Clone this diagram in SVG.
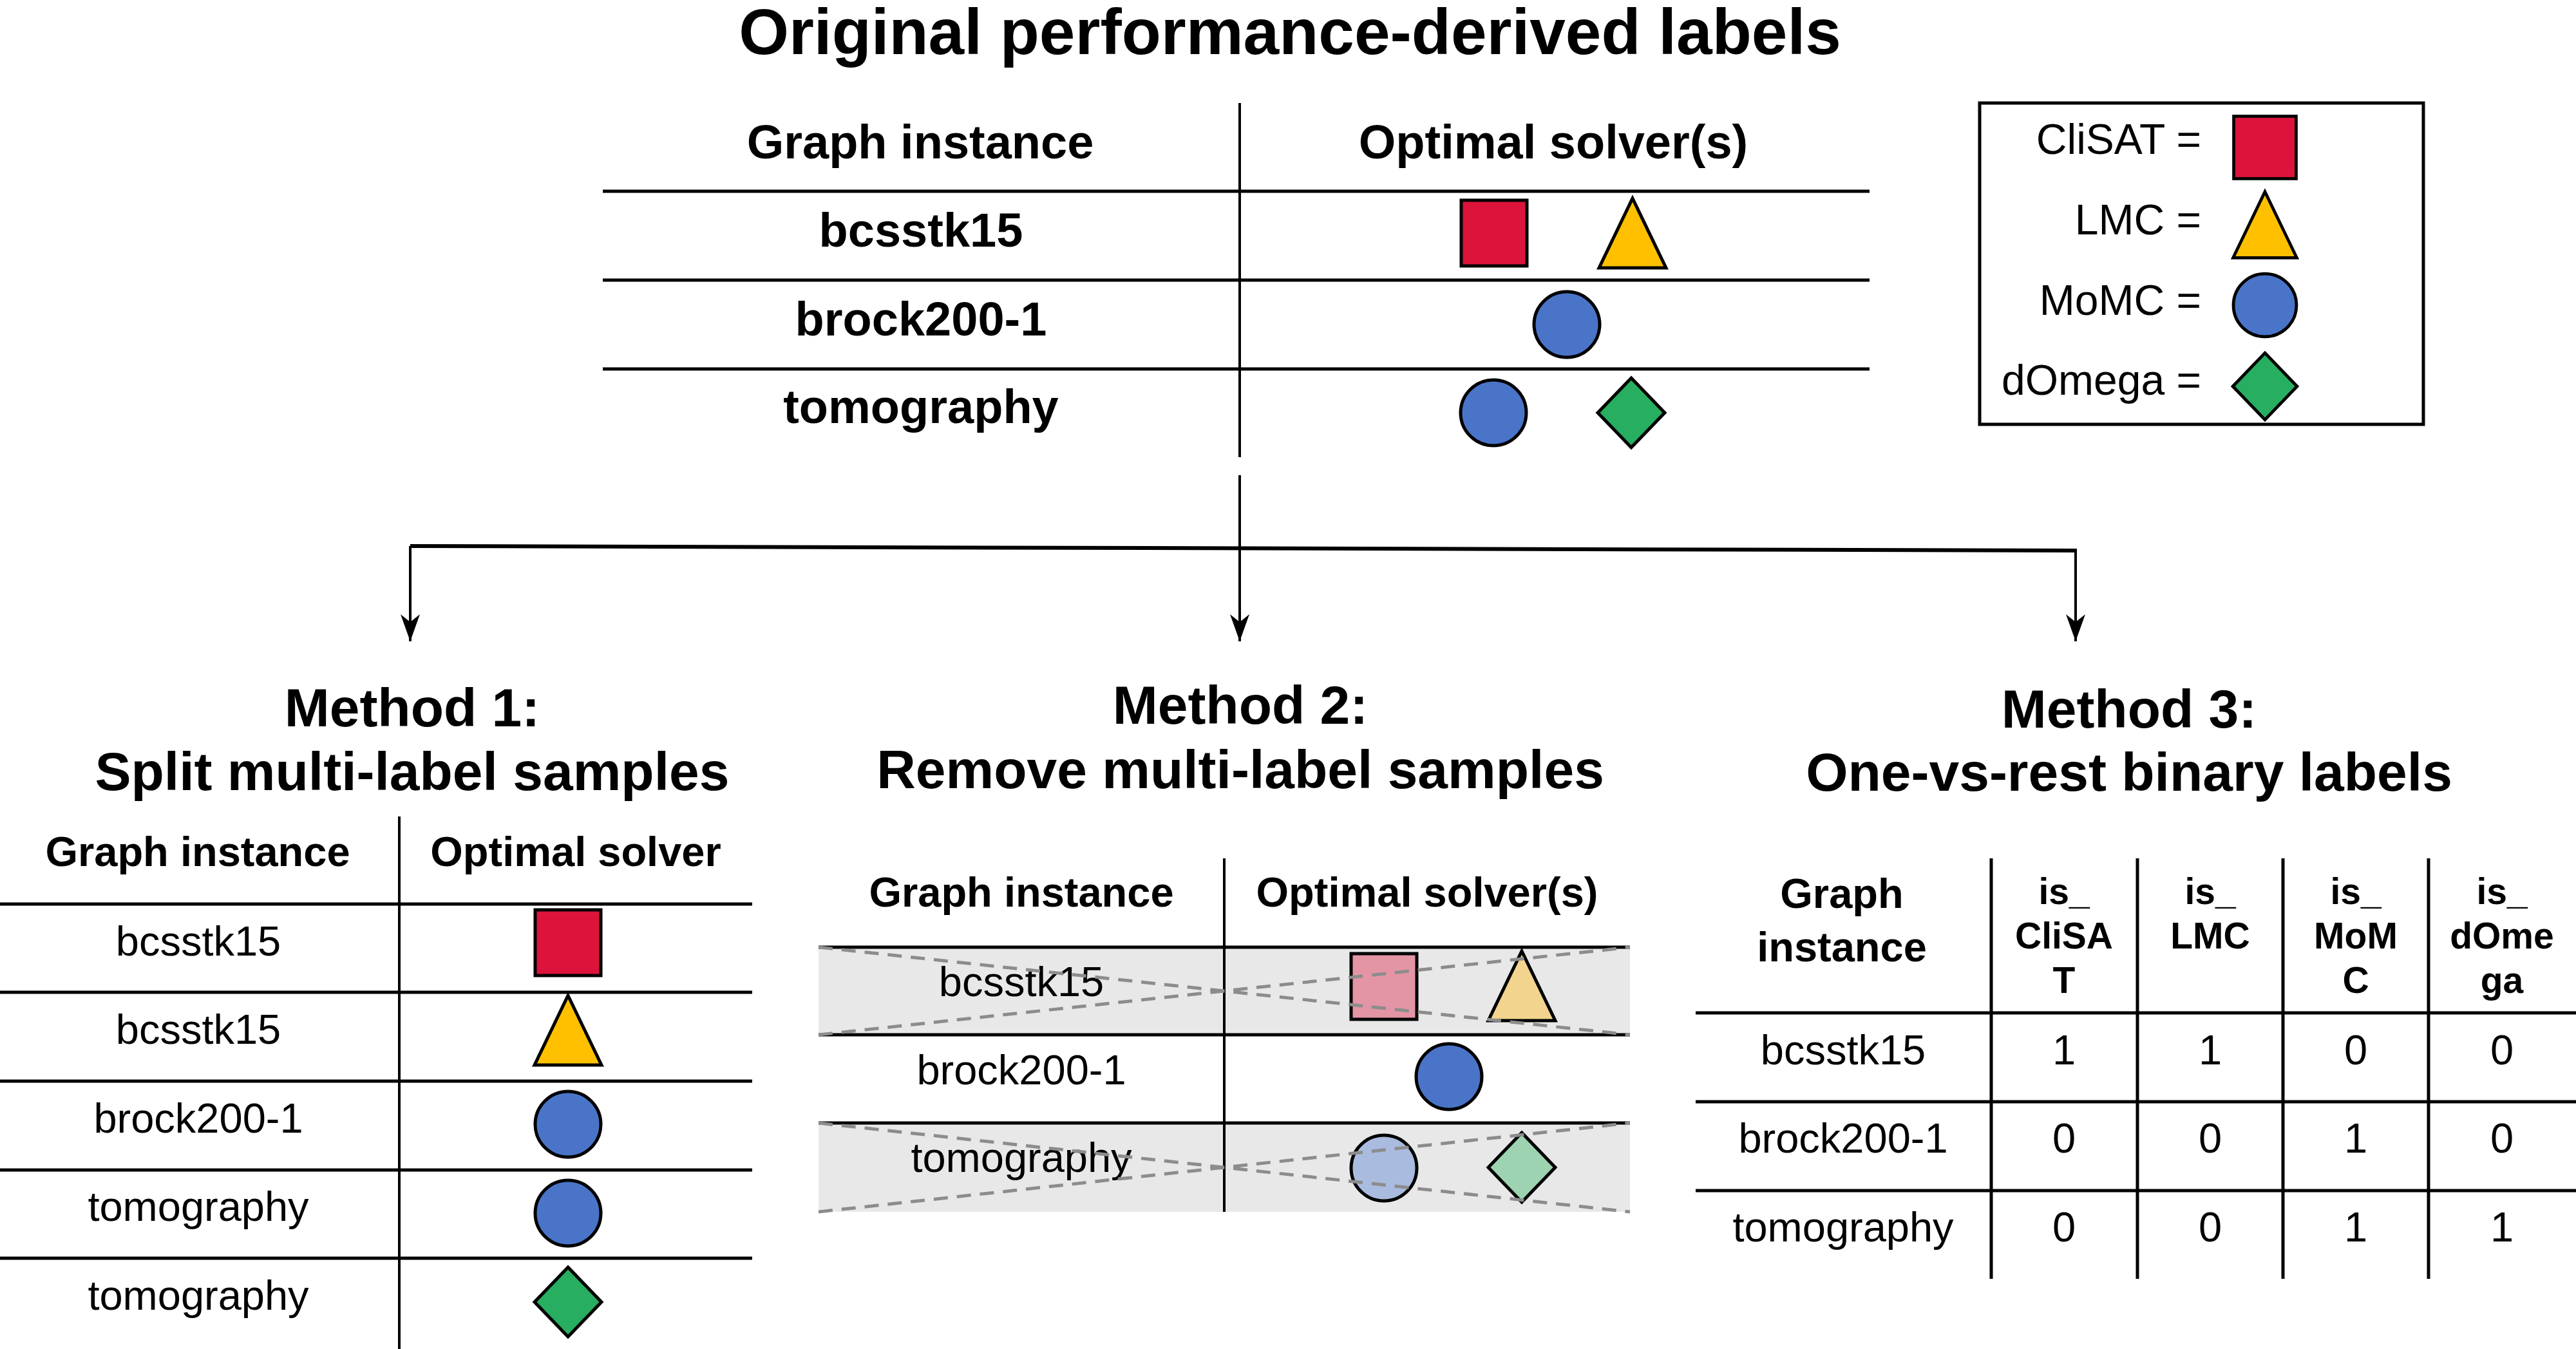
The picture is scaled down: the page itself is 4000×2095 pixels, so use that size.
<svg xmlns="http://www.w3.org/2000/svg" width="4000" height="2095" viewBox="0 0 4000 2095">
<style>
text{font-family:'Liberation Sans',Arial,sans-serif;fill:#000;text-anchor:middle}
.title{font-size:100px;font-weight:bold}
.mt{font-size:84px;font-weight:bold}
.th{font-size:74px;font-weight:bold}
.h{font-size:65px;font-weight:bold}
.r{font-size:65px}
.col{font-size:57px;font-weight:bold}
.leg{font-size:66px;text-anchor:end}
.ln{stroke:#000;stroke-width:5;fill:none}
.vl{stroke:#000;stroke-width:4;fill:none}
.sh{stroke:#000;stroke-width:5}
.dash{stroke:#8c8c8c;stroke-width:5;stroke-dasharray:22 14;fill:none}
.conn{stroke:#000;stroke-width:4;fill:none}
</style>
<defs>
<rect id="sq" x="-51" y="-51" width="102" height="102" class="sh"/>
<polygon id="tri" points="0,-54 52,54 -52,54" class="sh"/>
<circle id="cir" r="51" class="sh"/>
<polygon id="dia" points="0,-54 52,0 0,54 -52,0" class="sh"/>
<marker id="arr" viewBox="-44 -17 46 34" refX="0" refY="0" markerWidth="46" markerHeight="34" markerUnits="userSpaceOnUse" orient="auto">
<path d="M0,0 L-42,-15 L-30,0 L-42,15 Z" fill="#000"/>
</marker>
</defs>

<g id="title"><text class="title" x="2003" y="84">Original performance-derived labels</text></g>

<g id="original-table">
<line class="ln" x1="936" y1="297" x2="2903" y2="297"/>
<line class="ln" x1="936" y1="435" x2="2903" y2="435"/>
<line class="ln" x1="936" y1="573" x2="2903" y2="573"/>
<line class="vl" x1="1925" y1="160" x2="1925" y2="710"/>
<text class="th" x="1429" y="246">Graph instance</text>
<text class="th" x="2412" y="246">Optimal solver(s)</text>
<text class="th" x="1430" y="383">bcsstk15</text>
<text class="th" x="1430" y="521">brock200-1</text>
<text class="th" x="1430" y="657">tomography</text>
<use href="#sq" x="2320" y="362" fill="#dc143c"/>
<use href="#tri" x="2535" y="362" fill="#ffc000"/>
<use href="#cir" x="2433" y="504" fill="#4a74c8"/>
<use href="#cir" x="2319" y="641" fill="#4a74c8"/>
<use href="#dia" x="2533" y="641" fill="#27ae60"/>
</g>

<g id="legend">
<rect x="3074" y="160" width="689" height="499" fill="#fff" stroke="#000" stroke-width="5"/>
<text class="leg" x="3418" y="239">CliSAT =</text>
<text class="leg" x="3418" y="364">LMC =</text>
<text class="leg" x="3418" y="489">MoMC =</text>
<text class="leg" x="3418" y="613">dOmega =</text>
<use href="#sq" transform="translate(3517,229) scale(0.95)" fill="#dc143c"/>
<use href="#tri" transform="translate(3517,349) scale(0.95)" fill="#ffc000"/>
<use href="#cir" transform="translate(3517,474) scale(0.96)" fill="#4a74c8"/>
<use href="#dia" transform="translate(3517,600) scale(0.96)" fill="#27ae60"/>
</g>

<g id="connectors">
<line class="conn" x1="1925" y1="738" x2="1925" y2="996" marker-end="url(#arr)"/>
<line x1="637" y1="848" x2="3225" y2="855" stroke="#000" stroke-width="6"/>
<line class="conn" x1="637" y1="848" x2="637" y2="996" marker-end="url(#arr)"/>
<line class="conn" x1="3223" y1="855" x2="3223" y2="996" marker-end="url(#arr)"/>
</g>

<g id="method1">
<text class="mt" x="640" y="1128">Method 1:</text>
<text class="mt" x="640" y="1227">Split multi-label samples</text>
<text class="h" x="307" y="1345">Graph instance</text>
<text class="h" x="894" y="1345">Optimal solver</text>
<line class="ln" x1="0" y1="1404" x2="1168" y2="1404"/>
<line class="ln" x1="0" y1="1541" x2="1168" y2="1541"/>
<line class="ln" x1="0" y1="1679" x2="1168" y2="1679"/>
<line class="ln" x1="0" y1="1817" x2="1168" y2="1817"/>
<line class="ln" x1="0" y1="1954" x2="1168" y2="1954"/>
<line class="vl" x1="620" y1="1268" x2="620" y2="2095"/>
<text class="r" x="308" y="1484">bcsstk15</text>
<text class="r" x="308" y="1621">bcsstk15</text>
<text class="r" x="308" y="1759">brock200-1</text>
<text class="r" x="308" y="1896">tomography</text>
<text class="r" x="308" y="2034">tomography</text>
<use href="#sq" x="882" y="1464" fill="#dc143c"/>
<use href="#tri" x="882" y="1600" fill="#ffc000"/>
<use href="#cir" x="882" y="1746" fill="#4a74c8"/>
<use href="#cir" x="882" y="1884" fill="#4a74c8"/>
<use href="#dia" x="882" y="2022" fill="#27ae60"/>
</g>

<g id="method2">
<text class="mt" x="1926" y="1124">Method 2:</text>
<text class="mt" x="1926" y="1224">Remove multi-label samples</text>
<rect x="1271" y="1471" width="1260" height="136" fill="#e8e8e8"/>
<rect x="1271" y="1744" width="1260" height="138" fill="#e8e8e8"/>
<text class="h" x="1586" y="1408">Graph instance</text>
<text class="h" x="2216" y="1408">Optimal solver(s)</text>
<line class="ln" x1="1271" y1="1471" x2="2531" y2="1471"/>
<line class="ln" x1="1271" y1="1607" x2="2531" y2="1607"/>
<line class="ln" x1="1271" y1="1744" x2="2531" y2="1744"/>
<line class="vl" x1="1901" y1="1333" x2="1901" y2="1882"/>
<text class="r" x="1586" y="1547">bcsstk15</text>
<text class="r" x="1586" y="1684">brock200-1</text>
<text class="r" x="1586" y="1820">tomography</text>
<use href="#sq" x="2149" y="1532" fill="#e495a5"/>
<use href="#tri" x="2363" y="1531" fill="#f2d48e"/>
<use href="#cir" x="2250" y="1672" fill="#4a74c8"/>
<use href="#cir" x="2149" y="1814" fill="#a9bcdf"/>
<use href="#dia" x="2363" y="1813" fill="#9dd3b0"/>
<line class="dash" x1="1271" y1="1471" x2="2531" y2="1607"/>
<line class="dash" x1="1271" y1="1607" x2="2531" y2="1471"/>
<line class="dash" x1="1271" y1="1744" x2="2531" y2="1882"/>
<line class="dash" x1="1271" y1="1882" x2="2531" y2="1744"/>
</g>

<g id="method3">
<text class="mt" x="3306" y="1130">Method 3:</text>
<text class="mt" x="3306" y="1228">One-vs-rest binary labels</text>
<text class="h" x="2860" y="1410">Graph</text>
<text class="h" x="2860" y="1493">instance</text>
<text class="col" x="3205" y="1404">is_</text>
<text class="col" x="3205" y="1473">CliSA</text>
<text class="col" x="3205" y="1542">T</text>
<text class="col" x="3432" y="1404">is_</text>
<text class="col" x="3432" y="1473">LMC</text>
<text class="col" x="3658" y="1404">is_</text>
<text class="col" x="3658" y="1473">MoM</text>
<text class="col" x="3658" y="1542">C</text>
<text class="col" x="3885" y="1404">is_</text>
<text class="col" x="3885" y="1473">dOme</text>
<text class="col" x="3885" y="1542">ga</text>
<line class="ln" x1="2633" y1="1573" x2="4000" y2="1573"/>
<line class="ln" x1="2633" y1="1711" x2="4000" y2="1711"/>
<line class="ln" x1="2633" y1="1849" x2="4000" y2="1849"/>
<line class="ln" x1="3092" y1="1333" x2="3092" y2="1986"/>
<line class="ln" x1="3319" y1="1333" x2="3319" y2="1986"/>
<line class="ln" x1="3545" y1="1333" x2="3545" y2="1986"/>
<line class="ln" x1="3771" y1="1333" x2="3771" y2="1986"/>
<text class="r" x="2862" y="1653">bcsstk15</text>
<text class="r" x="2862" y="1790">brock200-1</text>
<text class="r" x="2862" y="1928">tomography</text>
<text class="r" x="3205" y="1653">1</text><text class="r" x="3432" y="1653">1</text><text class="r" x="3658" y="1653">0</text><text class="r" x="3885" y="1653">0</text>
<text class="r" x="3205" y="1790">0</text><text class="r" x="3432" y="1790">0</text><text class="r" x="3658" y="1790">1</text><text class="r" x="3885" y="1790">0</text>
<text class="r" x="3205" y="1928">0</text><text class="r" x="3432" y="1928">0</text><text class="r" x="3658" y="1928">1</text><text class="r" x="3885" y="1928">1</text>
</g>
</svg>
